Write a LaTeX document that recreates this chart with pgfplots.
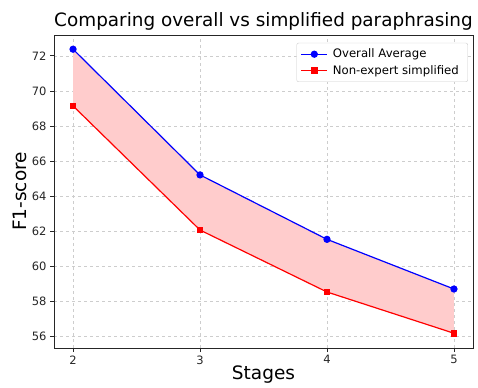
\documentclass[border=0pt]{standalone}
\usepackage{pgfplots}
\pgfplotsset{compat=1.18}
\usepgfplotslibrary{fillbetween}
\usepackage{fontspec}
\setmainfont{DejaVu Sans}
\definecolor{gridc}{RGB}{205,205,205}
\definecolor{fillc}{RGB}{255,204,204}
\begin{document}
\begin{tikzpicture}
\begin{axis}[
  at={(54pt,39pt)}, anchor=south west,
  scale only axis, width=419pt, height=313pt,
  xmin=1.85, xmax=5.15, ymin=55.36, ymax=73.19,
  xtick={2,3,4,5}, ytick={56,58,...,72},
  tick align=outside, tick pos=left,
  major tick length=4pt,
  grid=major,
  grid style={gridc, dashed, line width=0.6pt},
  axis line style={line width=0.8pt, black!85},
  tick style={black!85, line width=0.8pt},
  ticklabel style={font=\fontsize{11.5}{13}\selectfont, text=black!85},
  /pgf/number format/assume math mode=true,
  title={Comparing overall vs simplified paraphrasing},
  title style={font=\fontsize{18.4}{20}\selectfont, yshift=-5pt},
  xlabel={Stages}, ylabel={F1-score},
  xlabel style={font=\fontsize{18.5}{20}\selectfont, yshift=5pt},
  ylabel style={font=\fontsize{18.5}{20}\selectfont, yshift=-2pt},
  legend style={at={(0.988,0.975)}, anchor=north east, font=\fontsize{11.7}{13}\selectfont,
    draw=black!20, rounded corners=2pt, row sep=2pt, inner sep=4pt,
    nodes={inner xsep=5pt}},
  legend image code/.code={\draw[mark repeat=2,mark phase=2] plot coordinates {(0pt,0pt) (13pt,0pt) (26pt,0pt)};},
  legend cell align=left,
]
\addplot[blue, line width=1.2pt, mark=*, mark size=3pt, name path=A] coordinates {
 (2,72.38) (3,65.22) (4,61.55) (5,58.72)};
\addlegendentry{Overall Average}
\addplot[red, line width=1.2pt, mark=square*, mark size=2.8pt, name path=B] coordinates {
 (2,69.15) (3,62.08) (4,58.55) (5,56.2)};
\addlegendentry{Non-expert simplified}
\addplot[fillc, draw=none, forget plot] fill between[of=A and B];
\end{axis}
\path (0,0) rectangle (478pt,387pt);
\end{tikzpicture}
\end{document}
